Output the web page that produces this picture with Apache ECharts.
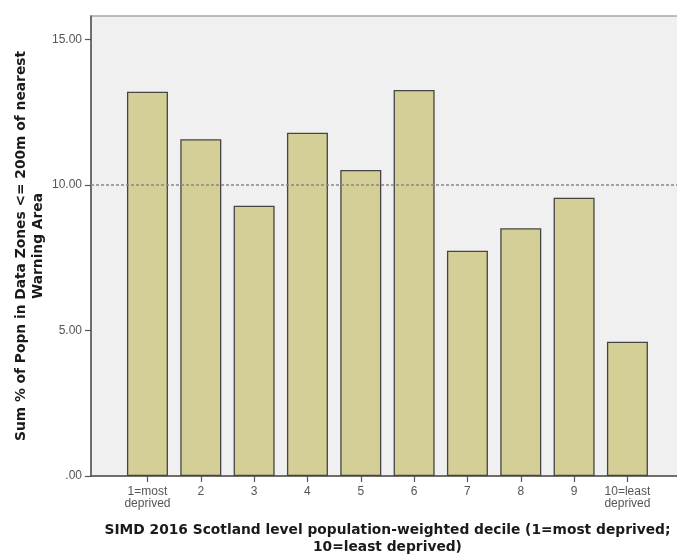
<!DOCTYPE html>
<html>
<head>
<meta charset="utf-8">
<script src="https://cdn.jsdelivr.net/npm/echarts@6/dist/echarts.min.js"></script>
<style>
html,body{margin:0;padding:0;background:#fff;}
#chart{width:677px;height:556px;}
</style>
</head>
<body>
<div id="chart"></div>
<script>
var categories = ['1=most\ndeprived', '2', '3', '4', '5', '6', '7', '8', '9', '10=least\ndeprived'];
var values = [13.2, 11.57, 9.28, 11.79, 10.51, 13.26, 7.74, 8.51, 9.56, 4.61];
var referenceLine = 10;
var yTicks = [0, 5, 10, 15];
var yMax = 15.8;
var xTitle = 'SIMD 2016 Scotland level population-weighted decile (1=most deprived;\n10=least deprived)';
var yTitle = 'Sum % of Popn in Data Zones <= 200m of nearest\nWarning Area';

var chart = echarts.init(document.getElementById('chart'), null, {renderer: 'canvas'});
var font = 'Liberation Sans, Arial, sans-serif';
var titleFont = 'DejaVu Sans, sans-serif';
var option = {
  animation: false,
  grid: [
    {left: 91, top: 16, right: -40, bottom: 80, show: true, backgroundColor: '#f0f0f0', borderColor: '#a8a8a8', borderWidth: 1.5, outerBoundsMode: 'none', containLabel: false},
    {left: 120.8, top: 16, width: 533.3, bottom: 80, outerBoundsMode: 'none', containLabel: false}
  ],
  xAxis: [
    {type: 'value', gridIndex: 0, min: 0, max: 1, axisLine: {show: true, lineStyle: {color: '#555', width: 1.5}},
     axisTick: {show: false}, axisLabel: {show: false}, splitLine: {show: false}},
    {type: 'category', gridIndex: 1, data: categories,
     axisLine: {show: false}, axisTick: {show: true, alignWithLabel: true, length: 6, lineStyle: {color: '#555', width: 1.2}},
     axisLabel: {interval: 0, color: '#555', fontSize: 12, lineHeight: 12, fontFamily: font, margin: 10},
     name: xTitle, nameLocation: 'middle', nameGap: 46, nameMoveOverlap: false,
     nameTextStyle: {fontSize: 13.8, fontWeight: 'bold', color: '#1a1a1a', fontFamily: titleFont, lineHeight: 17}}
  ],
  yAxis: [
    {type: 'value', gridIndex: 0, min: 0, max: yMax, interval: 5,
     axisLine: {show: true, lineStyle: {color: '#555', width: 1.5}},
     axisTick: {show: true, length: 6, lineStyle: {color: '#555', width: 1.2}},
     axisLabel: {color: '#555', fontSize: 12, fontFamily: font, margin: 9, showMaxLabel: false,
       formatter: function (v) { if (yTicks.indexOf(v) < 0) return ''; return v === 0 ? '.00' : v.toFixed(2); }},
     splitLine: {show: false},
     name: yTitle, nameLocation: 'middle', nameGap: 44, nameRotate: 90, nameMoveOverlap: false,
     nameTextStyle: {fontSize: 13.8, fontWeight: 'bold', color: '#1a1a1a', fontFamily: titleFont, lineHeight: 17}},
    {type: 'value', gridIndex: 1, min: 0, max: yMax, show: false}
  ],
  series: [
    {type: 'bar', xAxisIndex: 1, yAxisIndex: 1, data: values, barWidth: 41,
     itemStyle: {color: '#d3cf96', borderColor: '#454545', borderWidth: 1.3}, z: 2},
    {type: 'line', xAxisIndex: 0, yAxisIndex: 0, data: [], z: 5,
     markLine: {silent: true, symbol: 'none', label: {show: false},
       lineStyle: {color: '#888', type: [3, 2], width: 1.5},
       data: [{yAxis: referenceLine}]}}
  ]
};
chart.setOption(option);
</script>
</body>
</html>
